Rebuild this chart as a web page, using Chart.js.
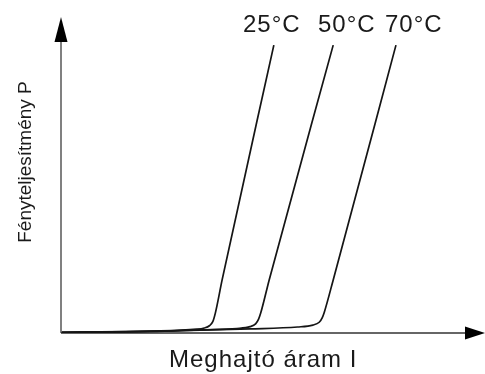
<!DOCTYPE html>
<html>
<head>
<meta charset="utf-8">
<script src="https://cdn.jsdelivr.net/npm/chart.js@4.4.0/dist/chart.umd.min.js"></script>
<style>
  html, body { margin: 0; padding: 0; background: #fff; }
  #wrap { width: 485px; height: 374px; position: relative; }
</style>
</head>
<body>
<div id="wrap"><canvas id="chart"></canvas></div>
<script>
// lézerdióda P-I görbék (tetszőleges egységek)
const seriesNames = ['25°C', '50°C', '70°C'];

const current25 = [0.2, 21, 32.0, 33.8, 35.0, 35.8, 36.4, 38.0, 50.2];
const power25   = [0.3, 0.6, 1.2, 1.6, 2.3, 3.6, 6.3, 16.8, 91.1];

const current50 = [0.2, 21, 32.8, 41.5, 44.6, 45.9, 46.6, 47.1, 49.1, 64.2];
const power50   = [0.16, 0.5, 1.0, 1.4, 2.0, 2.9, 4.4, 6.3, 16.8, 91.1];

const current70 = [0.2, 21, 44.6, 55.8, 59.4, 60.9, 61.6, 62.1, 64.2, 79.0];
const power70   = [0.16, 0.5, 1.3, 1.9, 2.5, 3.4, 4.8, 6.6, 16.8, 91.1];

const xTitle = 'Meghajtó áram I';
const yTitle = 'Fényteljesítmény P';

function toPoints(xs, ys) {
	return xs.map((x, i) => ({ x: x, y: ys[i] }));
}

// tengelyek nyilakkal + feliratok
const decorPlugin = {
	id: 'decor',
	beforeDatasetsDraw(chart) {
		const ctx = chart.ctx;
		const a = chart.chartArea;
		ctx.save();
		// y tengely
		ctx.strokeStyle = '#808080';
		ctx.lineWidth = 2;
		ctx.beginPath();
		ctx.moveTo(a.left, a.bottom);
		ctx.lineTo(a.left, a.top + 24);
		ctx.stroke();
		ctx.fillStyle = '#000';
		ctx.beginPath();
		ctx.moveTo(a.left, a.top);
		ctx.lineTo(a.left - 6.5, a.top + 25);
		ctx.lineTo(a.left + 6.5, a.top + 25);
		ctx.closePath();
		ctx.fill();
		// x tengely
		ctx.strokeStyle = '#333';
		ctx.lineWidth = 1.5;
		ctx.beginPath();
		ctx.moveTo(a.left, a.bottom);
		ctx.lineTo(a.right - 19, a.bottom);
		ctx.stroke();
		ctx.beginPath();
		ctx.moveTo(a.right, a.bottom);
		ctx.lineTo(a.right - 20, a.bottom - 6.5);
		ctx.lineTo(a.right - 20, a.bottom + 6.5);
		ctx.closePath();
		ctx.fill();
		ctx.restore();
	},
	afterDraw(chart) {
		const ctx = chart.ctx;
		ctx.save();
		ctx.fillStyle = '#1a1a1a';
		ctx.textBaseline = 'alphabetic';
		ctx.textAlign = 'left';
		ctx.letterSpacing = '1px';
		ctx.font = '24px "Liberation Sans", Arial, sans-serif';
		const labelLeft = [243, 318, 385];
		seriesNames.forEach((name, i) => {
			ctx.fillText(name, labelLeft[i], 32);
		});
		// x tengely cím
		ctx.fillText(xTitle, 169, 367);
		// y tengely cím
		ctx.letterSpacing = '0px';
		ctx.textAlign = 'center';
		ctx.translate(31, 162);
		ctx.rotate(-Math.PI / 2);
		ctx.font = '19px "Liberation Sans", Arial, sans-serif';
		ctx.fillText(yTitle, 0, 0);
		ctx.restore();
	}
};

const lineStyle = {
	borderColor: '#151515',
	borderWidth: 1.7,
	pointRadius: 0,
	fill: false,
	cubicInterpolationMode: 'monotone'
};

new Chart(document.getElementById('chart'), {
	type: 'line',
	data: {
		datasets: [
			Object.assign({ label: seriesNames[0], data: toPoints(current25, power25) }, lineStyle),
			Object.assign({ label: seriesNames[1], data: toPoints(current50, power50) }, lineStyle),
			Object.assign({ label: seriesNames[2], data: toPoints(current70, power70) }, lineStyle)
		]
	},
	options: {
		responsive: true,
		maintainAspectRatio: false,
		animation: false,
		layout: { padding: { left: 61, top: 17, right: 0, bottom: 41 } },
		plugins: {
			legend: { display: false },
			tooltip: { enabled: false }
		},
		scales: {
			x: { type: 'linear', min: 0, max: 100, display: false },
			y: { type: 'linear', min: 0, max: 100, display: false }
		}
	},
	plugins: [decorPlugin]
});
</script>
</body>
</html>
